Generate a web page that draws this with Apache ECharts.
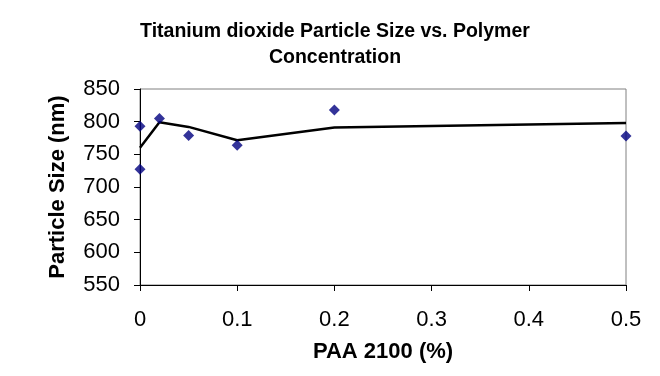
<!DOCTYPE html>
<html>
<head>
<meta charset="utf-8">
<script src="https://cdn.jsdelivr.net/npm/echarts@6/dist/echarts.min.js"></script>
<style>
html, body { margin: 0; padding: 0; background: #fff; }
#chart { width: 660px; height: 376px; }
</style>
</head>
<body>
<div id="chart"></div>
<script>
// measured points
var paaPct = [0, 0, 0.02, 0.05, 0.1, 0.2, 0.5];
var sizeNm = [727, 793, 805, 779, 764, 818, 778];

// 2 period moving average trendline
var trendX = [0, 0.02, 0.05, 0.1, 0.2, 0.5];
var trendY = [760, 799, 792, 771.5, 791, 798];

var yTicks = [550, 600, 650, 700, 750, 800, 850];

var scatterData = paaPct.map(function (x, i) { return [x, sizeNm[i]]; });
var trendData = trendX.map(function (x, i) { return [x, trendY[i]]; });

var myChart = echarts.init(document.getElementById('chart'));

var option = {
    animation: false,
    backgroundColor: '#fff',
    title: {
        text: 'Titanium dioxide Particle Size vs. Polymer\nConcentration',
        left: 330,
        top: 14,
        textAlign: 'center',
        textStyle: {
            fontFamily: 'Liberation Sans, Arial, sans-serif',
            fontWeight: 'bold',
            fontSize: 19.5,
            lineHeight: 26,
            color: '#000'
        }
    },
    grid: {
        left: 140,
        right: 34,
        top: 89,
        bottom: 91,
        show: true,
        borderColor: '#808080',
        borderWidth: 1
    },
    xAxis: {
        type: 'value',
        min: 0,
        max: 0.5,
        interval: 0.1,
        name: 'PAA 2100 (%)',
        nameLocation: 'middle',
        nameGap: 56,
        nameTextStyle: {
            fontFamily: 'Liberation Sans, Arial, sans-serif',
            fontWeight: 'bold',
            fontSize: 22,
            color: '#000'
        },
        axisLine: { show: true, lineStyle: { color: '#000', width: 1 } },
        axisTick: { show: true, inside: false, length: 6, lineStyle: { color: '#000' } },
        splitLine: { show: false },
        axisLabel: {
            margin: 24,
            fontFamily: 'Liberation Sans, Arial, sans-serif',
            fontSize: 22,
            color: '#000'
        }
    },
    yAxis: {
        type: 'value',
        min: 550,
        max: 850,
        interval: 50,
        name: 'Particle Size (nm)',
        nameLocation: 'middle',
        nameGap: 71,
        nameTextStyle: {
            fontFamily: 'Liberation Sans, Arial, sans-serif',
            fontWeight: 'bold',
            fontSize: 22,
            color: '#000'
        },
        axisLine: { show: true, lineStyle: { color: '#000', width: 1 } },
        axisTick: { show: true, inside: false, length: 6, lineStyle: { color: '#000' } },
        splitLine: { show: false },
        axisLabel: {
            margin: 20,
            fontFamily: 'Liberation Sans, Arial, sans-serif',
            fontSize: 22,
            color: '#000',
            formatter: function (v) { return yTicks.indexOf(v) >= 0 ? String(v) : ''; }
        }
    },
    series: [{
        name: 'Trend',
        type: 'line',
        data: trendData,
        symbol: 'none',
        lineStyle: { color: '#000', width: 2.5 },
        z: 2
    }, {
        name: 'Particle Size',
        type: 'scatter',
        data: scatterData,
        symbol: 'diamond',
        symbolSize: 11,
        itemStyle: { color: '#000080' },
        z: 3
    }]
};

myChart.setOption(option, true);
</script>
</body>
</html>
